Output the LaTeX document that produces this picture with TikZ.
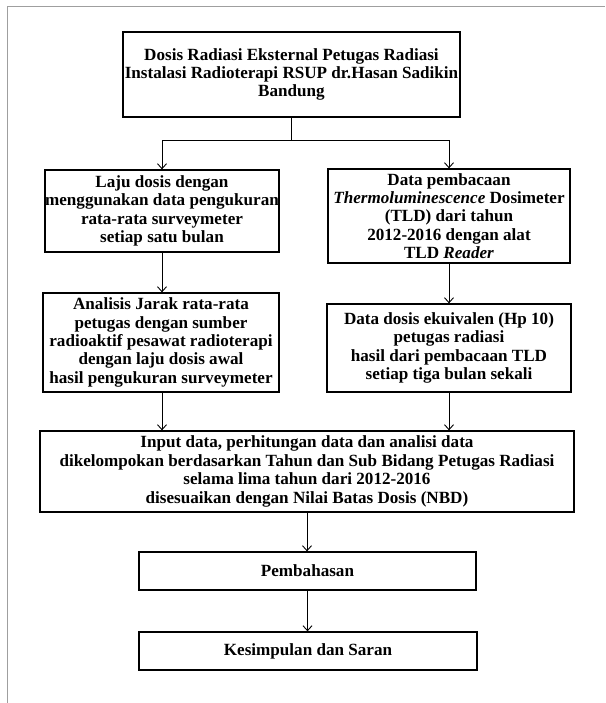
\documentclass[tikz,border=0pt]{standalone}
\usepackage{fontspec}
\setmainfont{Liberation Serif}
\usetikzlibrary{arrows.meta}
\begin{document}
\begin{tikzpicture}[x=1pt,y=-1pt,
  box/.style={draw=black, line width=1.3pt, align=center, inner sep=0pt,
    font=\bfseries\fontsize{17.1}{18.4}\selectfont},
  conn/.style={draw=black, line width=0.9pt, -{Straight Barb[length=5pt,width=9pt]}},
  plain/.style={draw=black, line width=1.1pt}]
\useasboundingbox (0,0) rectangle (605,703);
\fill[white] (0,0) rectangle (605,703);
\draw[gray!75, line width=1pt] (7,703) -- (7,7) -- (605,7);

\node[box, minimum width=337pt, minimum height=85pt] (top) at (291.5,74.5)
  {Dosis Radiasi Eksternal Petugas Radiasi\\Instalasi Radioterapi RSUP dr.Hasan Sadikin\\Bandung};
\node[box, minimum width=234pt, minimum height=82pt] (l2) at (162,211)
  {Laju dosis dengan\\menggunakan data pengukuran\\rata-rata surveymeter\\setiap satu bulan};
\node[box, minimum width=242pt, minimum height=94pt] (r2) at (449,216)
  {Data pembacaan\\\textit{Thermoluminescence} Dosimeter\\(TLD) dari tahun\\2012-2016 dengan alat\\TLD \textit{Reader}};
\node[box, minimum width=236pt, minimum height=99pt] (l3) at (161,342.5)
  {Analisis Jarak rata-rata\\petugas dengan sumber\\radioaktif pesawat radioterapi\\dengan laju dosis awal\\hasil pengukuran surveymeter};
\node[box, minimum width=244pt, minimum height=88pt] (r3) at (449,348)
  {Data dosis ekuivalen (Hp 10)\\petugas radiasi\\hasil dari pembacaan TLD\\setiap tiga bulan sekali};
\node[box, minimum width=534pt, minimum height=81pt] (big) at (307,471.5)
  {Input data, perhitungan data dan analisi data\\dikelompokan berdasarkan Tahun dan Sub Bidang Petugas Radiasi\\selama lima tahun dari 2012-2016\\disesuaikan dengan Nilai Batas Dosis (NBD)};
\node[box, minimum width=337pt, minimum height=38pt] (pb) at (307.5,571) {Pembahasan};
\node[box, minimum width=338pt, minimum height=38pt] (ks) at (308,651) {Kesimpulan dan Saran};

\coordinate (split) at (291.5,140);
\draw[plain] (top.south) -- (split);
\draw[conn] (split) -| (l2.north);
\draw[conn] (split) -| (r2.north);
\draw[conn] (l2.south) -- (l2.south |- l3.north);
\draw[conn] (r2.south) -- (r2.south |- r3.north);
\draw[conn] (l2.south |- l3.south) -- (l2.south |- big.north);
\draw[conn] (r3.south) -- (r3.south |- big.north);
\draw[conn] (big.south) -- (big.south |- pb.north);
\draw[conn] (pb.south) -- (pb.south |- ks.north);
\end{tikzpicture}
\end{document}
